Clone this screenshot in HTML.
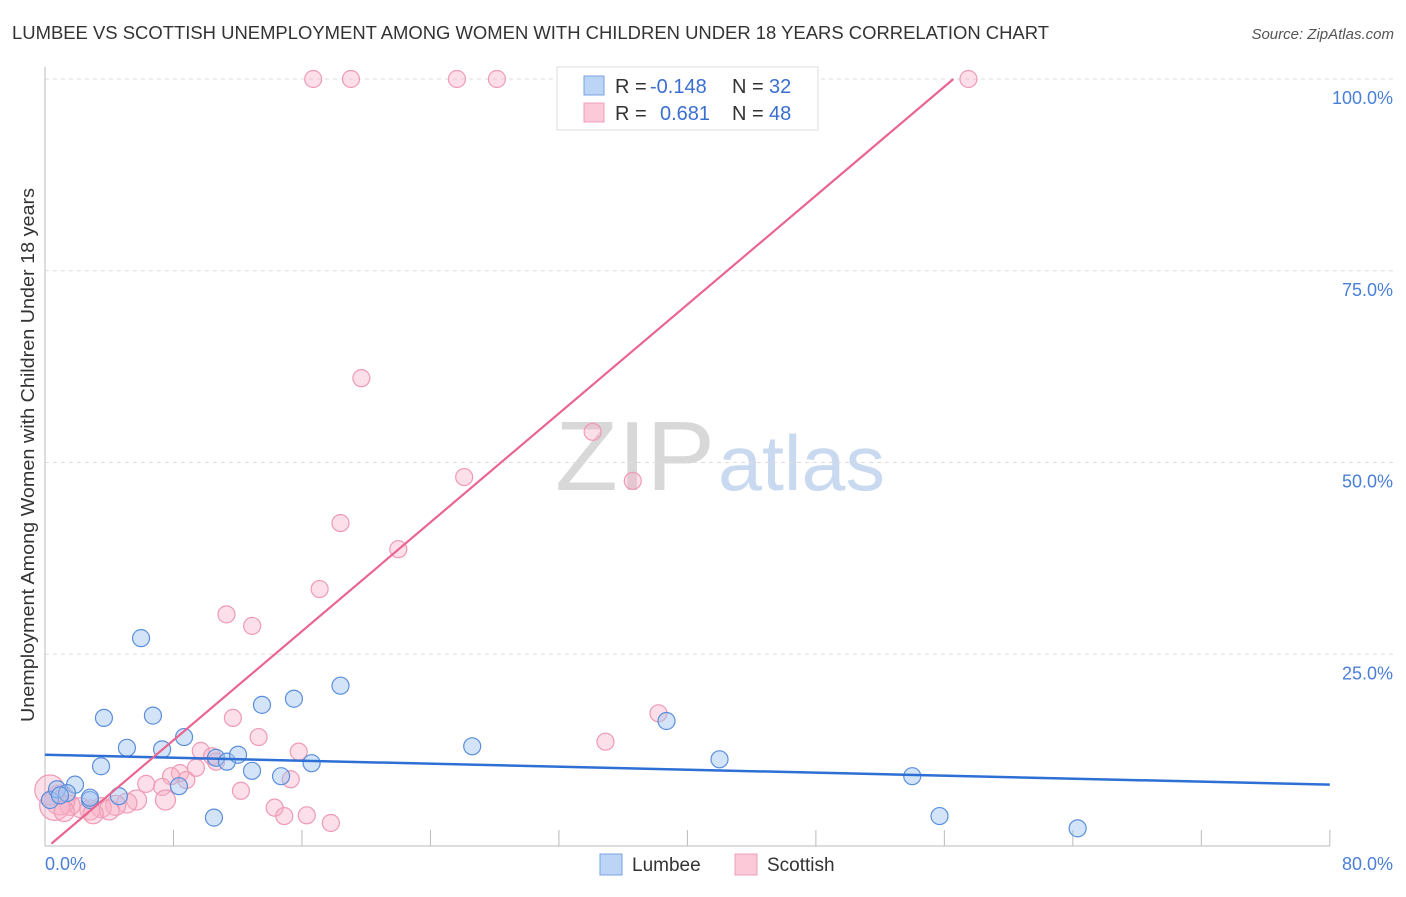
<!DOCTYPE html>
<html><head><meta charset="utf-8"><style>
body{margin:0;background:#fff;font-family:"Liberation Sans",sans-serif;}
svg text{font-family:"Liberation Sans",sans-serif;}
</style></head><body>
<svg id="chart" width="1406" height="892" xmlns="http://www.w3.org/2000/svg">
<text x="12" y="39" font-size="18" fill="#333" textLength="1037" lengthAdjust="spacingAndGlyphs">LUMBEE VS SCOTTISH UNEMPLOYMENT AMONG WOMEN WITH CHILDREN UNDER 18 YEARS CORRELATION CHART</text>
<text x="1394" y="39" font-size="15" fill="#555" text-anchor="end" font-style="italic">Source: ZipAtlas.com</text>
<text transform="translate(34,455) rotate(-90)" font-size="18" fill="#333" text-anchor="middle" textLength="534" lengthAdjust="spacingAndGlyphs">Unemployment Among Women with Children Under 18 years</text>
<text x="555" y="490" font-size="98" fill="#d8d8d8" font-family="Liberation Serif" textLength="160" lengthAdjust="spacingAndGlyphs">ZIP</text>
<text x="718" y="490" font-size="78" fill="#c9d9f0" textLength="167" lengthAdjust="spacingAndGlyphs">atlas</text>
<g id="grid"></g><g id="axes"></g><g id="pts"></g><g id="lines"></g>
<g>
<rect x="557" y="67" width="261" height="63" fill="#fff" stroke="#ddd"/>
<rect x="584" y="76" width="20" height="19" fill="#bcd4f5" stroke="#7aa3e0"/>
<rect x="584" y="103" width="20" height="19" fill="#fbc9d8" stroke="#eea0b8"/>
<text x="615" y="93" font-size="20" fill="#333">R =</text>
<text x="650" y="93" font-size="20" fill="#3a6fd0">-0.148</text>
<text x="732" y="93" font-size="20" fill="#333">N =</text>
<text x="769" y="93" font-size="20" fill="#3a6fd0">32</text>
<text x="615" y="120" font-size="20" fill="#333">R =</text>
<text x="660" y="120" font-size="20" fill="#3a6fd0">0.681</text>
<text x="732" y="120" font-size="20" fill="#333">N =</text>
<text x="769" y="120" font-size="20" fill="#3a6fd0">48</text>
</g>
<g>
<rect x="600" y="854" width="22" height="21" fill="#bcd4f5" stroke="#7aa3e0"/>
<text x="632" y="871" font-size="19" fill="#333">Lumbee</text>
<rect x="735" y="854" width="22" height="21" fill="#fbc9d8" stroke="#eea0b8"/>
<text x="767" y="871" font-size="19" fill="#333">Scottish</text>
</g>
</svg>
<script>
const yTicks=[25,50,75,100];
const yTickLabels=["25.0%","50.0%","75.0%","100.0%"];
const xTicks=[0,8,16,24,32,40,48,56,64,72,80];
const lumbeeX=[0.31,0.75,1.87,1.37,2.8,4.6,3.67,3.49,5.1,5.98,6.72,7.29,8.34,8.66,10.52,10.65,11.33,12.02,12.89,13.51,14.7,15.5,16.6,18.4,26.6,38.7,42.0,54.0,55.7,64.3,2.8,0.93];
const lumbeeY=[6.0,7.4,8.0,6.9,6.0,6.5,16.7,10.4,12.8,27.1,17.0,12.6,7.8,14.2,3.7,11.5,11.0,11.9,9.8,18.4,9.1,19.2,10.8,20.9,13.0,16.3,11.3,9.1,3.9,2.3,6.3,6.6];
const scotX=[16.7,19.05,25.65,28.14,57.5,19.7,34.1,26.1,36.6,18.4,22.0,17.1,11.3,12.9,38.2,34.9,11.7,13.3,15.8,9.7,10.4,10.65,9.4,15.3,8.4,8.8,7.85,6.3,7.3,12.2,14.3,14.9,16.3,17.8,7.5,5.7,5.1,4.4,3.5,2.8,2.2,1.56,0.93,0.3,0.6,4.0,1.2,3.0];
const scotY=[100,100,100,100,100,61.0,54.0,48.1,47.6,42.1,38.7,33.5,30.2,28.7,17.3,13.6,16.7,14.2,12.3,12.4,11.7,11.0,10.2,8.7,9.5,8.6,9.1,8.1,7.7,7.2,5.0,3.9,4.0,3.0,6.0,6.0,5.6,5.3,5.0,4.7,5.0,5.3,6.0,7.3,5.3,4.7,4.5,4.2];
const lumbeeLine=[11.9,8.0];
const scotSlope=1.775, scotIntercept=-0.4;
const X=v=>45+v*16.06, Y=v=>846-v*7.67;
const NS="http://www.w3.org/2000/svg";
function mk(t,a,p){const e=document.createElementNS(NS,t);for(const k in a)e.setAttribute(k,a[k]);p.appendChild(e);return e;}
const g=document.getElementById('grid'),ax=document.getElementById('axes'),pts=document.getElementById('pts'),ln=document.getElementById('lines');
yTicks.forEach((t,i)=>{
 const l=mk('line',{x1:45,x2:1395,y1:Y(t),y2:Y(t),stroke:'#ddd','stroke-dasharray':'4,4'},g);
 
 
 const tx=mk('text',{x:1393,y:Y(t)+25,'font-size':18,fill:'#4a7fd8','text-anchor':'end'},g);
 tx.textContent=yTickLabels[i];
 
 
});
const a1=mk('line',{x1:45,x2:45,y1:67,y2:846,stroke:'#bbb'},ax);


const a2=mk('line',{x1:45,x2:1330,y1:846,y2:846,stroke:'#bbb'},ax);


xTicks.forEach(t=>{const l=mk('line',{x1:X(t),x2:X(t),y1:830,y2:846,stroke:'#bbb'},ax);
 
 });
const t0=mk('text',{x:45,y:870,'font-size':18,fill:'#4a7fd8'},ax);t0.textContent='0.0%';


const t1=mk('text',{x:1393,y:870,'font-size':18,fill:'#4a7fd8','text-anchor':'end'},ax);t1.textContent='80.0%';


scotX.forEach((x,i)=>{const r=(i>=42&&i<=44)?15:(i>=34?10:8.5);
 const c=mk('circle',{cx:X(x),cy:Y(scotY[i]),r:r,fill:'rgba(248,175,198,0.4)',stroke:'#ef9ab5','stroke-width':1.2},pts);
 
 });
lumbeeX.forEach((x,i)=>{const c=mk('circle',{cx:X(x),cy:Y(lumbeeY[i]),r:8.5,fill:'rgba(160,195,240,0.45)',stroke:'#5b8fdc','stroke-width':1.2},pts);
 
 });
const bl=mk('line',{x1:X(0),y1:Y(lumbeeLine[0]),x2:X(80),y2:Y(lumbeeLine[1]),stroke:'#2d6fd4','stroke-width':2.5},ln);


const x0=0.4,x1=(100-scotIntercept)/scotSlope;
const pl=mk('line',{x1:X(x0),y1:Y(scotSlope*x0+scotIntercept),x2:X(x1),y2:Y(100),stroke:'#e8668f','stroke-width':2.2},ln);


</script>
</body></html>
